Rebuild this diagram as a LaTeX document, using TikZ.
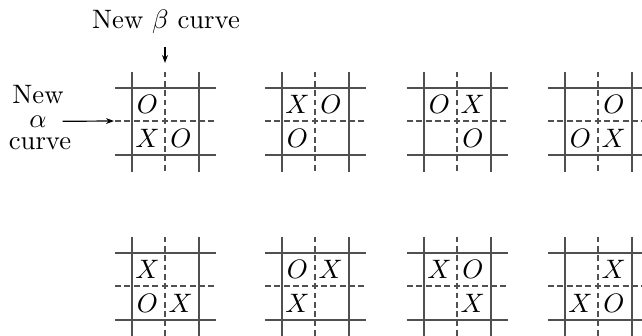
\documentclass[tikz,border=0pt]{standalone}
\usepackage{amsmath, amssymb}
\usepackage{tikz}
\usetikzlibrary{positioning, arrows.meta}
\definecolor{GridGray}{RGB}{80, 80, 80}

\tikzset{
  gridline/.style={line width=0.75pt, GridGray},
  newcurve/.style={gridline, dash pattern=on 2.2pt off 1.3pt},
  pointer/.style={-{Stealth[length=3pt, width=2.2pt]}, line width=0.45pt},
  cellmark/.style={inner sep=0pt},
  sidelabel/.style={anchor=base, inner sep=1pt}
}

\begin{document}
\begin{tikzpicture}[x=0.375pt, y=-0.375pt]
    \useasboundingbox (0,0) rectangle (642,335);

    % Grids: old curves solid, new curves dashed
    \foreach \gx/\gy in {132/88, 282/88, 424/88, 565/88, 132/253, 282/253, 424/253, 565/253} {
      \draw[gridline] (\gx,\gy-16.5) -- (\gx,\gy+83.5);
      \draw[gridline] (\gx+67,\gy-16.5) -- (\gx+67,\gy+83.5);
      \draw[gridline] (\gx-17,\gy) -- (\gx+83.5,\gy);
      \draw[gridline] (\gx-17,\gy+67) -- (\gx+83.5,\gy+67);
      \draw[newcurve] (\gx+33.3,\gy-16.5) -- (\gx+33.3,\gy+83.5);
      \draw[newcurve] (\gx-17,\gy+33.3) -- (\gx+83.5,\gy+33.3);
    }

    % Markers (column, row inside each grid)
    \foreach \gx/\gy/\c/\r/\s/\n in {
        132/88/0/0/O/ma1, 132/88/0/1/X/ma2, 132/88/1/1/O/ma3,
        282/88/0/0/X/mb1, 282/88/1/0/O/mb2, 282/88/0/1/O/mb3,
        424/88/0/0/O/mc1, 424/88/1/0/X/mc2, 424/88/1/1/O/mc3,
        565/88/1/0/O/md1, 565/88/0/1/O/md2, 565/88/1/1/X/md3,
        132/253/0/0/X/me1, 132/253/0/1/O/me2, 132/253/1/1/X/me3,
        282/253/0/0/O/mf1, 282/253/1/0/X/mf2, 282/253/0/1/X/mf3,
        424/253/0/0/X/mg1, 424/253/1/0/O/mg2, 424/253/1/1/X/mg3,
        565/253/1/0/X/mh1, 565/253/0/1/X/mh2, 565/253/1/1/O/mh3} {
      \node[cellmark] (\n) at (\gx+15.5+33.3*\c, \gy+16.7+33.3*\r) {$\s$};
    }

    % New beta curve
    \node[anchor=base] (betalabel) at (166,28) {New $\beta$ curve};
    \coordinate (betastart) at (165,47);
    \coordinate (betatip) at (165,63);
    \draw[pointer] (betastart) -- (betatip);

    % New alpha curve
    \node[sidelabel] (alphanew) at (38,103) {New};
    \node[sidelabel] (alphasym) at (38,127) {$\alpha$};
    \node[sidelabel] (alphacurve) at (40,149) {curve};
    \coordinate (alphatip) at (114,121);
    \draw[pointer] ([xshift=4.8pt]alphasym.east) -- (alphatip);
\end{tikzpicture}
\end{document}
